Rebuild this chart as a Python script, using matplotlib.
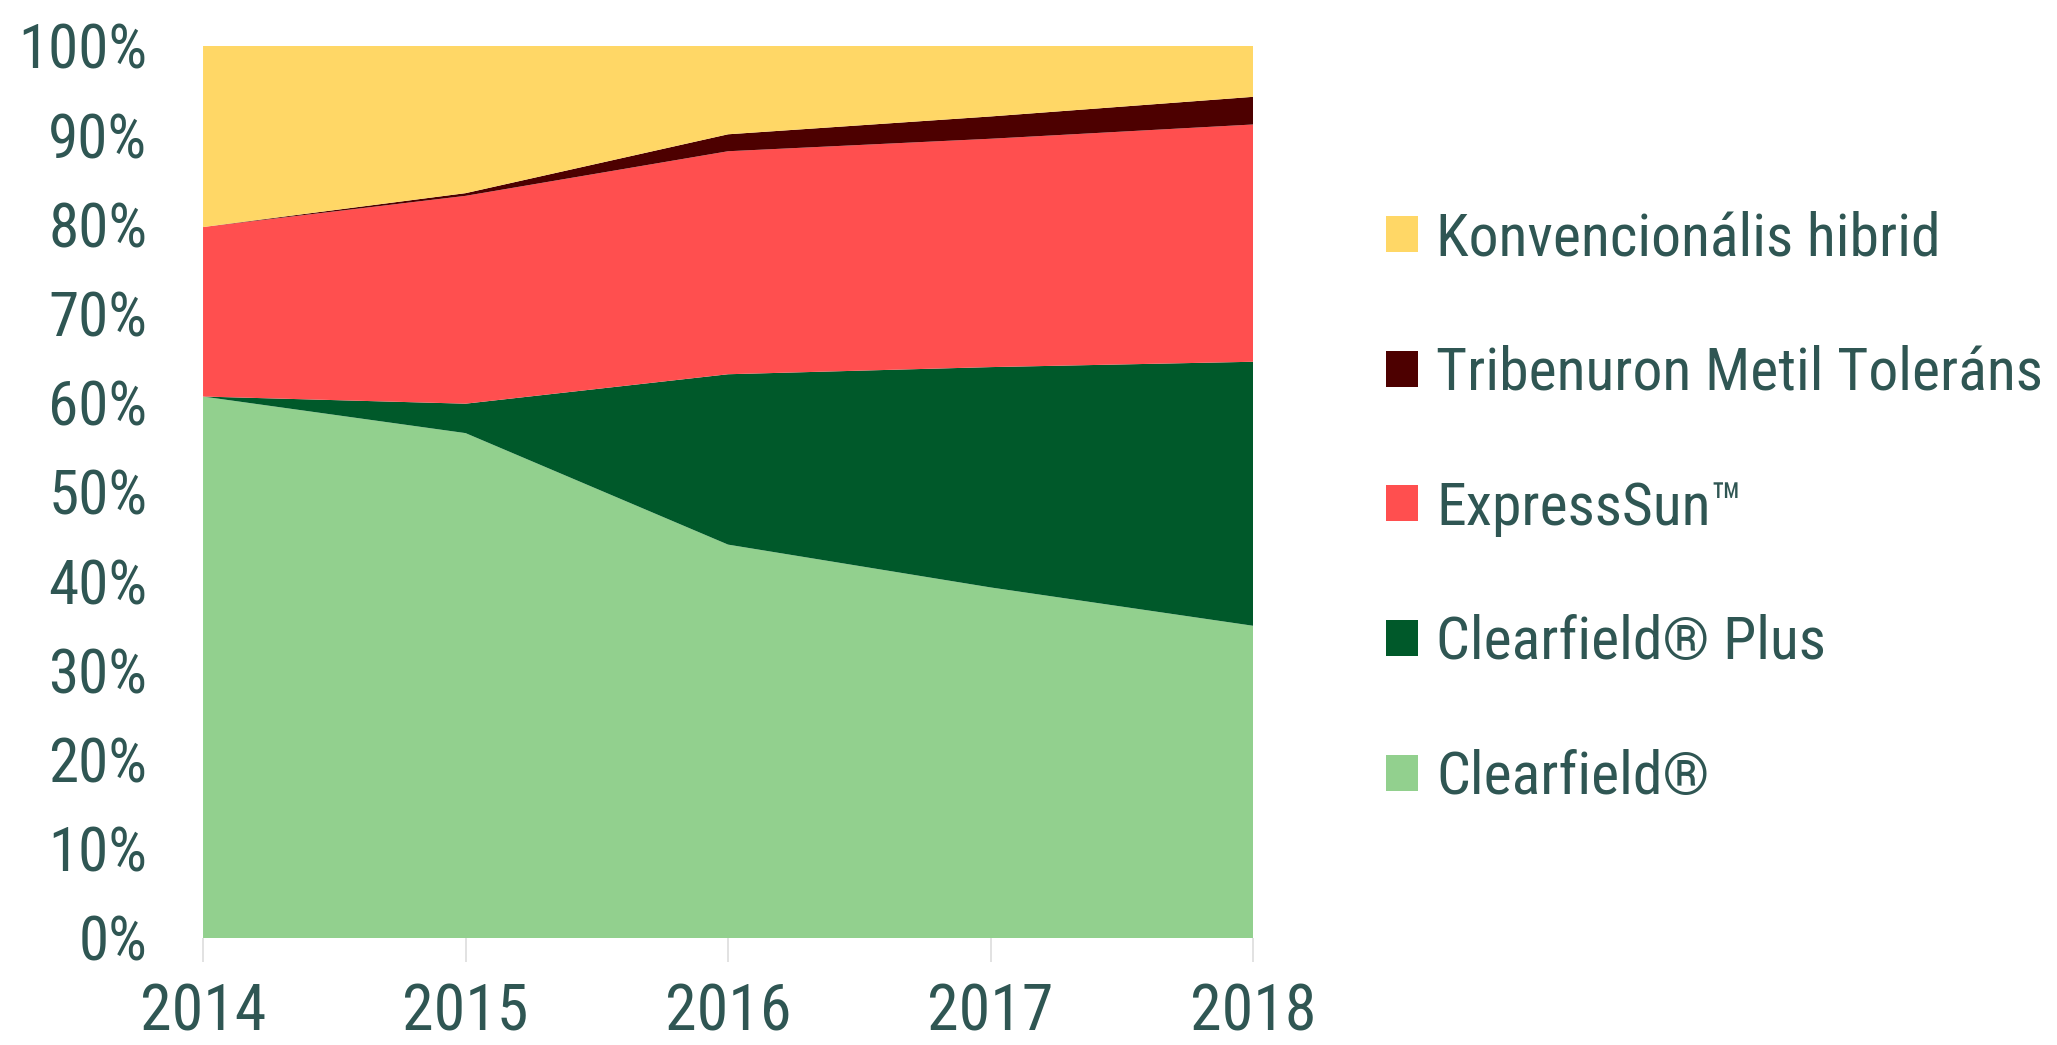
#!/usr/bin/env python3
"""
Stacked share of sunflower hybrid technologies, 2014-2018
"""

import matplotlib

matplotlib.use("Agg")
import matplotlib.pyplot as plt
from matplotlib.ticker import PercentFormatter

plt.rcParams["font.family"] = ["Roboto Condensed", "DejaVu Sans"]

TEXT_COLOR = "#2F5653"

years = [2014, 2015, 2016, 2017, 2018]

# shares in percent, bottom to top
clearfield = [60.7, 56.6, 44.1, 39.3, 35.0]
clearfield_plus = [0.0, 3.3, 19.1, 24.7, 29.6]
expresssun = [19.0, 23.3, 25.0, 25.6, 26.6]
tribenuron = [0.0, 0.3, 1.9, 2.5, 3.1]
konvencionalis = [20.3, 16.5, 9.9, 7.9, 5.7]

labels = [
    "Clearfield®",
    "Clearfield® Plus",
    "ExpressSun™",
    "Tribenuron Metil Toleráns",
    "Konvencionális hibrid",
]
colors = ["#92D08E", "#00592A", "#FF4F4F", "#4D0000", "#FFD766"]


def plot_chart() -> None:
    """
    Plot chart
    """
    fig = plt.figure(figsize=(20.57, 10.45), dpi=100)
    ax = fig.add_axes([0.0987, 0.1024, 0.5105, 0.8536])

    polys = ax.stackplot(
        years,
        clearfield,
        clearfield_plus,
        expresssun,
        tribenuron,
        konvencionalis,
        labels=labels,
        colors=colors,
        linewidth=0,
    )

    ax.set_xlim(years[0], years[-1])
    ax.set_ylim(0, 100)
    ax.set_xticks(years)
    ax.set_yticks(range(0, 101, 10))
    ax.yaxis.set_major_formatter(PercentFormatter(decimals=0))

    for side in ["top", "right", "left", "bottom"]:
        ax.spines[side].set_visible(False)

    ax.tick_params(axis="y", length=0, pad=40, labelsize=44, labelcolor=TEXT_COLOR)
    ax.tick_params(
        axis="x",
        length=17,
        width=1.2,
        color="#DDDDDD",
        pad=14,
        labelsize=46,
        labelcolor=TEXT_COLOR,
    )

    # Legend, top entry first
    leg = ax.legend(
        handles=polys[::-1],
        labels=labels[::-1],
        loc="center left",
        bbox_to_anchor=(1.075, 0.482),
        frameon=False,
        fontsize=43,
        handlelength=0.55,
        handleheight=0.55,
        handletextpad=0.3,
        labelspacing=1.3,
    )
    for text in leg.get_texts():
        text.set_color(TEXT_COLOR)

    fig.savefig("out.png", dpi=100, facecolor="white")


if __name__ == "__main__":
    plot_chart()
